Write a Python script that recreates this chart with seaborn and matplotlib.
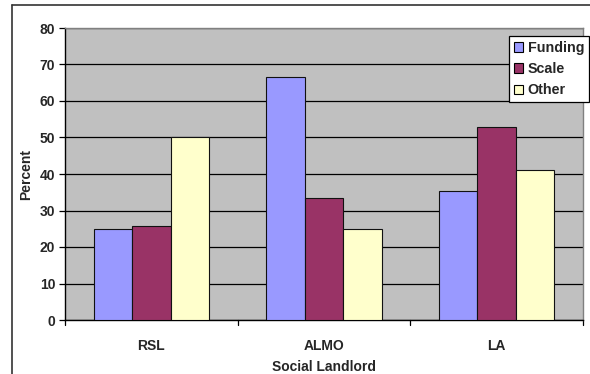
import matplotlib
matplotlib.use("Agg")
import matplotlib.pyplot as plt
from matplotlib.patches import Rectangle
from matplotlib.lines import Line2D
import seaborn as sns
import pandas as pd

landlords = ["RSL", "ALMO", "LA"]
reasons = ["Funding", "Scale", "Other"]
funding = [25.0, 66.7, 35.3]
scale = [25.8, 33.3, 52.9]
other = [50.0, 25.0, 41.2]
colors = ["#9999FF", "#993366", "#FFFFCC"]

rows = []
for i, lab in enumerate(landlords):
    for reason, vals in zip(reasons, [funding, scale, other]):
        rows.append({"Social Landlord": lab, "Reason": reason, "Percent": vals[i]})
df = pd.DataFrame(rows)

sns.set_theme(style="white")
plt.rcParams["font.family"] = ["Liberation Sans", "DejaVu Sans"]
plt.rcParams["font.weight"] = "bold"

fig = plt.figure(figsize=(5.9, 3.74), dpi=100)
W, H = 590, 374
ax = fig.add_axes([65 / W, 1 - 320 / H, (583 - 65) / W, (320 - 28) / H])

# outer chart frame (left and top edges)
fig.lines.append(Line2D([12 / W, 12 / W], [0, 1 - 5 / H], transform=fig.transFigure,
                        color="#333333", linewidth=1.2))
fig.lines.append(Line2D([12 / W, 1], [1 - 5 / H, 1 - 5 / H], transform=fig.transFigure,
                        color="#333333", linewidth=1.2))

ax.set_facecolor("#C0C0C0")
sns.barplot(data=df, x="Social Landlord", y="Percent", hue="Reason",
            palette=colors, saturation=1, width=0.667, gap=0,
            edgecolor="#111111", linewidth=0.8, ax=ax, legend=False)

ax.set_ylim(0, 80)
ax.set_yticks(range(0, 81, 10))
ax.set_xlim(-0.5, 2.5)
ax.yaxis.grid(True, color="black", linewidth=0.9)
ax.set_axisbelow(True)
for b in ax.patches:
    b.set_zorder(3)

ax.set_xticks([0, 1, 2])
ax.set_xticklabels(landlords, fontsize=10, fontweight="bold")
ax.tick_params(axis="x", length=0, pad=14)
for xb in [-0.5, 0.5, 1.5, 2.5]:
    ax.plot([xb, xb], [0, -1.3], color="black", lw=0.9, clip_on=False)
ax.tick_params(axis="y", length=4, width=0.9, color="black", left=True,
               labelsize=10, pad=3)
for t in ax.get_yticklabels():
    t.set_fontweight("bold")

ax.set_xlabel("Social Landlord", fontsize=10, fontweight="bold", labelpad=5)
ax.set_ylabel("Percent", fontsize=10, fontweight="bold", labelpad=5)

for s in ["left", "bottom"]:
    ax.spines[s].set_color("black")
    ax.spines[s].set_linewidth(1.0)
for s in ["top", "right"]:
    ax.spines[s].set_color("#808080")
    ax.spines[s].set_linewidth(1.0)

handles = [Rectangle((0, 0), 1, 1, facecolor=c, edgecolor="black", linewidth=0.8)
           for c in colors]
leg = fig.legend(handles, reasons, loc="upper left",
                 bbox_to_anchor=(509 / W, 1 - 36 / H),
                 frameon=True, fancybox=False, framealpha=1,
                 edgecolor="black", prop={"weight": "bold", "size": 10.3},
                 handlelength=0.65, handleheight=0.65, handletextpad=0.3,
                 borderpad=0.35, labelspacing=0.5, borderaxespad=0)
leg.get_frame().set_linewidth(0.9)

fig.savefig("out.png", dpi=100, facecolor="white")
